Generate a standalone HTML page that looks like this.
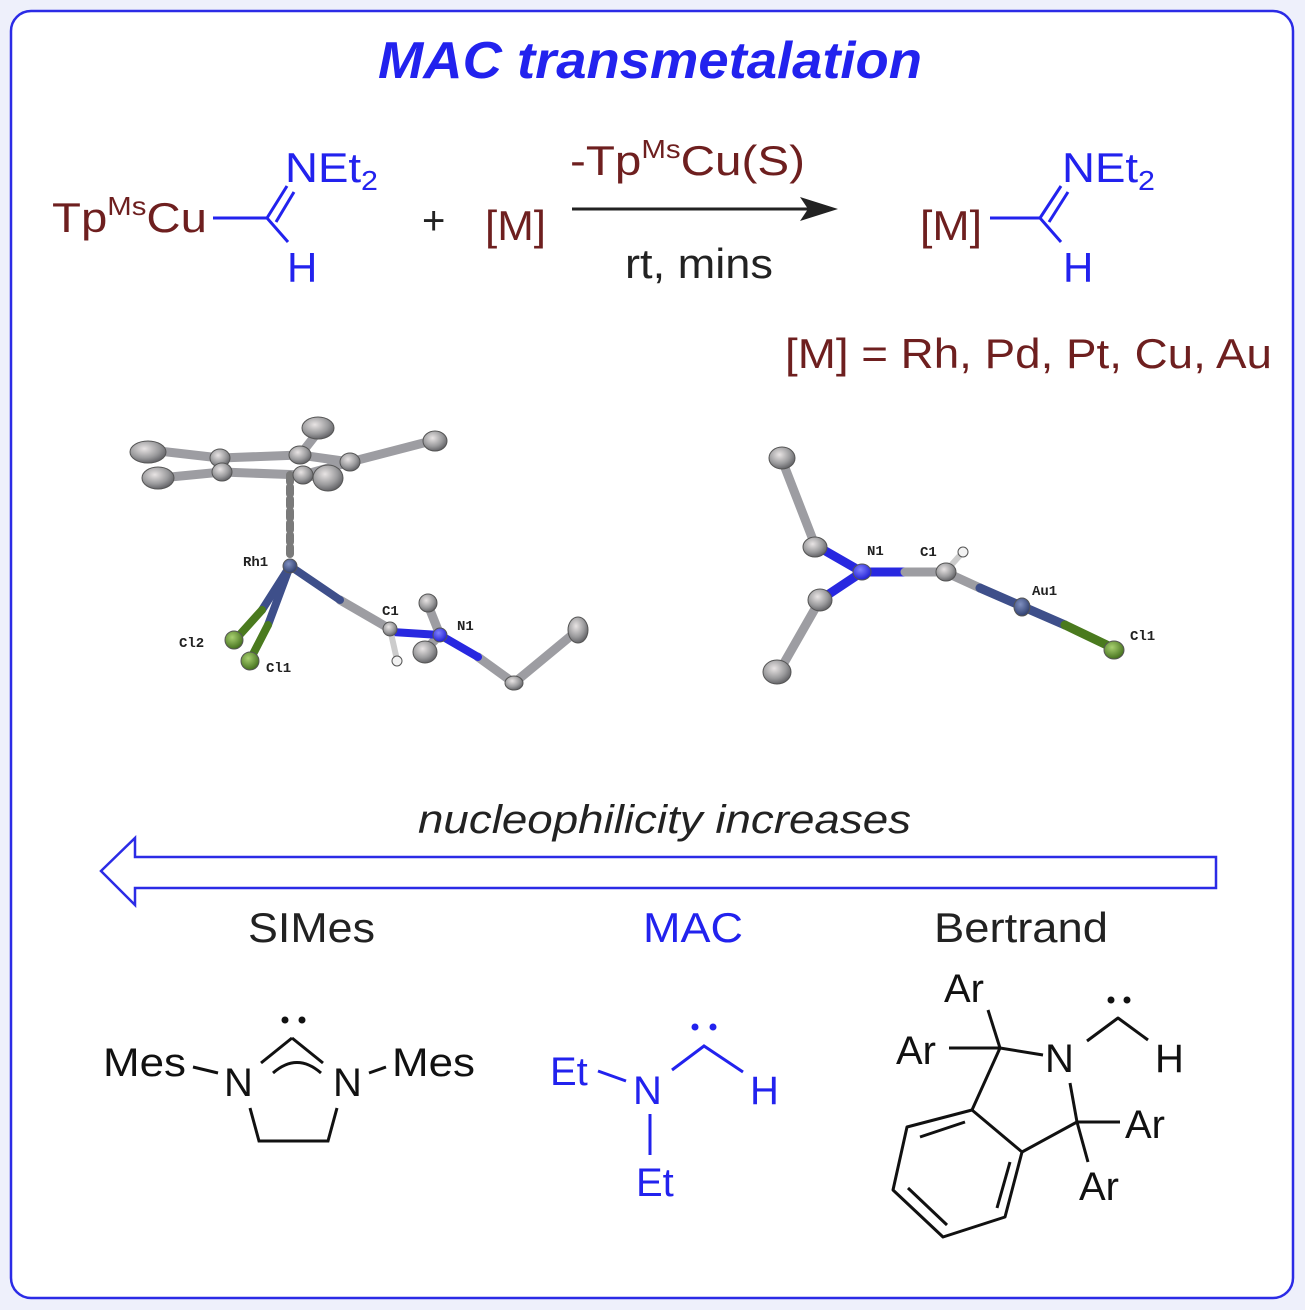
<!DOCTYPE html>
<html><head><meta charset="utf-8"><style>
html,body{margin:0;padding:0;background:#fff;}
svg{display:block;}
text{font-family:"Liberation Sans",sans-serif;}
</style></head><body>
<svg width="1305" height="1310" viewBox="0 0 1305 1310" xmlns="http://www.w3.org/2000/svg">
<defs>
<radialGradient id="g" cx="40%" cy="35%" r="70%"><stop offset="0" stop-color="#e8e4e4"/><stop offset="0.6" stop-color="#9a9a9c"/><stop offset="1" stop-color="#5a5a5e"/></radialGradient>
<radialGradient id="gg" cx="40%" cy="35%" r="70%"><stop offset="0" stop-color="#a8d070"/><stop offset="1" stop-color="#3e6a18"/></radialGradient>
<radialGradient id="gb" cx="40%" cy="35%" r="70%"><stop offset="0" stop-color="#8080ff"/><stop offset="1" stop-color="#1a1ad0"/></radialGradient>
<radialGradient id="gn" cx="40%" cy="35%" r="70%"><stop offset="0" stop-color="#8090c0"/><stop offset="1" stop-color="#2a3a6a"/></radialGradient>
</defs>
<rect x="0" y="0" width="1305" height="1310" fill="#eef0fb"/>
<rect x="11" y="11" width="1282" height="1287" rx="20" fill="#fff" stroke="#2b2be6" stroke-width="2.5"/>

<text x="650" y="78" text-anchor="middle" font-size="52" font-weight="bold" font-style="italic" fill="#2222ee" textLength="544" lengthAdjust="spacingAndGlyphs">MAC transmetalation</text>

<g fill="#6e1f1f" font-size="42">
<text x="52" y="232" textLength="155" lengthAdjust="spacingAndGlyphs">Tp<tspan font-size="26" dy="-17">Ms</tspan><tspan dy="17">Cu</tspan></text>
<text x="485" y="240" textLength="61" lengthAdjust="spacingAndGlyphs">[M]</text>
<text x="570" y="175" textLength="235" lengthAdjust="spacingAndGlyphs">-Tp<tspan font-size="26" dy="-17">Ms</tspan><tspan dy="17">Cu(S)</tspan></text>
<text x="920" y="240" textLength="62" lengthAdjust="spacingAndGlyphs">[M]</text>
<text x="785" y="368" textLength="487" lengthAdjust="spacingAndGlyphs">[M] = Rh, Pd, Pt, Cu, Au</text>
</g>
<text x="422" y="234" font-size="40" fill="#222">+</text>
<text x="625" y="278" font-size="42" fill="#222" textLength="148" lengthAdjust="spacingAndGlyphs">rt, mins</text>
<line x1="572" y1="209" x2="810" y2="209" stroke="#222" stroke-width="3"/>
<polygon points="838,209 800,197 808,209 800,221" fill="#222"/>

<g stroke="#2222ee" stroke-width="3" fill="none">
<line x1="213" y1="218" x2="267" y2="218"/>
<line x1="267" y1="218" x2="287" y2="186"/>
<line x1="276" y1="222" x2="294" y2="192"/>
<line x1="267" y1="218" x2="288" y2="242"/>
<line x1="990" y1="218" x2="1040" y2="218"/>
<line x1="1040" y1="218" x2="1061" y2="186"/>
<line x1="1049" y1="222" x2="1068" y2="192"/>
<line x1="1040" y1="218" x2="1061" y2="242"/>
</g>
<g fill="#2222ee" font-size="42">
<text x="285" y="182" textLength="93" lengthAdjust="spacingAndGlyphs">NEt<tspan font-size="28" dy="8">2</tspan></text>
<text x="287" y="282">H</text>
<text x="1062" y="182" textLength="93" lengthAdjust="spacingAndGlyphs">NEt<tspan font-size="28" dy="8">2</tspan></text>
<text x="1063" y="282">H</text>
</g>

<g stroke-linecap="round">
<g stroke="#9d9da2" stroke-width="9">
<line x1="150" y1="450" x2="220" y2="458"/><line x1="160" y1="478" x2="222" y2="472"/>
<line x1="220" y1="458" x2="300" y2="455"/><line x1="222" y1="472" x2="303" y2="475"/>
<line x1="300" y1="455" x2="350" y2="462"/><line x1="350" y1="462" x2="435" y2="440"/>
<line x1="300" y1="455" x2="318" y2="432"/><line x1="303" y1="475" x2="325" y2="478"/>
<line x1="220" y1="458" x2="222" y2="472"/><line x1="303" y1="475" x2="350" y2="462"/>
<line x1="390" y1="629" x2="340" y2="600"/><line x1="440" y1="635" x2="428" y2="605"/>
<line x1="440" y1="635" x2="425" y2="650"/><line x1="478" y1="657" x2="514" y2="683"/><line x1="514" y1="683" x2="578" y2="630"/>
</g>
<line x1="290" y1="475" x2="290" y2="556" stroke="#7a7a7a" stroke-width="8" stroke-dasharray="7,5"/>
<g stroke="#3e4f8a" stroke-width="8"><line x1="290" y1="566" x2="340" y2="600"/><line x1="290" y1="566" x2="262" y2="610"/><line x1="290" y1="566" x2="268" y2="625"/></g>
<g stroke="#4a7a1e" stroke-width="8"><line x1="262" y1="610" x2="235" y2="640"/><line x1="268" y1="625" x2="250" y2="660"/></g>
<g stroke="#2828e0" stroke-width="8"><line x1="392" y1="632" x2="440" y2="635"/><line x1="440" y1="635" x2="478" y2="657"/></g>
<line x1="390" y1="629" x2="397" y2="660" stroke="#ccc" stroke-width="6"/>
</g>
<g stroke="#555" stroke-width="1">
<ellipse cx="148" cy="452" rx="18" ry="11" fill="url(#g)"/><ellipse cx="158" cy="478" rx="16" ry="11" fill="url(#g)"/>
<ellipse cx="220" cy="458" rx="10" ry="9" fill="url(#g)"/><ellipse cx="222" cy="472" rx="10" ry="9" fill="url(#g)"/>
<ellipse cx="300" cy="455" rx="11" ry="9" fill="url(#g)"/><ellipse cx="318" cy="428" rx="16" ry="11" fill="url(#g)"/>
<ellipse cx="350" cy="462" rx="10" ry="9" fill="url(#g)"/><ellipse cx="303" cy="475" rx="10" ry="9" fill="url(#g)"/>
<ellipse cx="328" cy="478" rx="15" ry="13" fill="url(#g)"/><ellipse cx="435" cy="441" rx="12" ry="10" fill="url(#g)"/>
<circle cx="290" cy="566" r="7" fill="url(#gn)"/>
<circle cx="234" cy="640" r="9" fill="url(#gg)"/><circle cx="250" cy="661" r="9" fill="url(#gg)"/>
<circle cx="390" cy="629" r="7" fill="url(#g)"/><circle cx="397" cy="661" r="5" fill="#f2f2f2"/>
<circle cx="428" cy="603" r="9" fill="url(#g)"/><ellipse cx="425" cy="652" rx="12" ry="11" fill="url(#g)"/>
<circle cx="440" cy="635" r="7" fill="url(#gb)"/>
<ellipse cx="514" cy="683" rx="9" ry="7" fill="url(#g)"/><ellipse cx="578" cy="630" rx="10" ry="13" fill="url(#g)"/>
</g>
<g font-weight="bold" font-size="14" fill="#222">
<text x="243" y="566" style="font-family:'Liberation Mono',monospace">Rh1</text>
<text x="179" y="647" style="font-family:'Liberation Mono',monospace">Cl2</text>
<text x="266" y="672" style="font-family:'Liberation Mono',monospace">Cl1</text>
<text x="382" y="615" style="font-family:'Liberation Mono',monospace">C1</text>
<text x="457" y="630" style="font-family:'Liberation Mono',monospace">N1</text>
</g>

<g stroke-linecap="round" stroke-width="9">
<line x1="782" y1="460" x2="815" y2="545" stroke="#9d9da2"/>
<line x1="780" y1="670" x2="820" y2="600" stroke="#9d9da2"/>
<line x1="815" y1="545" x2="862" y2="572" stroke="#2828e0"/>
<line x1="820" y1="600" x2="862" y2="572" stroke="#2828e0"/>
<line x1="862" y1="572" x2="905" y2="572" stroke="#2828e0"/>
<line x1="905" y1="572" x2="945" y2="572" stroke="#9d9da2"/>
<line x1="945" y1="572" x2="980" y2="588" stroke="#9d9da2"/>
<line x1="980" y1="588" x2="1065" y2="625" stroke="#3e4f8a"/>
<line x1="1065" y1="625" x2="1113" y2="648" stroke="#4a7a1e"/>
<line x1="945" y1="572" x2="963" y2="552" stroke="#ccc" stroke-width="6"/>
</g>
<g stroke="#555" stroke-width="1">
<ellipse cx="782" cy="458" rx="13" ry="11" fill="url(#g)"/><ellipse cx="815" cy="547" rx="12" ry="10" fill="url(#g)"/>
<ellipse cx="820" cy="600" rx="12" ry="11" fill="url(#g)"/><ellipse cx="777" cy="672" rx="14" ry="12" fill="url(#g)"/>
<ellipse cx="862" cy="572" rx="9" ry="8" fill="url(#gb)"/><ellipse cx="946" cy="572" rx="10" ry="9" fill="url(#g)"/>
<circle cx="963" cy="552" r="5" fill="#f2f2f2"/><ellipse cx="1022" cy="607" rx="8" ry="9" fill="url(#gn)"/>
<ellipse cx="1114" cy="650" rx="10" ry="9" fill="url(#gg)"/>
</g>
<g font-weight="bold" font-size="14" fill="#222">
<text x="867" y="555" style="font-family:'Liberation Mono',monospace">N1</text>
<text x="920" y="556" style="font-family:'Liberation Mono',monospace">C1</text>
<text x="1032" y="595" style="font-family:'Liberation Mono',monospace">Au1</text>
<text x="1130" y="640" style="font-family:'Liberation Mono',monospace">Cl1</text>
</g>

<text x="418" y="833" font-size="40" font-style="italic" fill="#222" textLength="493" lengthAdjust="spacingAndGlyphs">nucleophilicity increases</text>
<polygon points="101,871 135,838 135,857 1216,857 1216,888 135,888 135,905" fill="#fff" stroke="#2b2be6" stroke-width="2.5" stroke-linejoin="miter"/>

<text x="248" y="942" font-size="42" fill="#222" textLength="127" lengthAdjust="spacingAndGlyphs">SIMes</text>
<text x="643" y="942" font-size="42" fill="#2222ee" textLength="100" lengthAdjust="spacingAndGlyphs">MAC</text>
<text x="934" y="942" font-size="42" fill="#222" textLength="174" lengthAdjust="spacingAndGlyphs">Bertrand</text>

<g stroke="#111" stroke-width="3" fill="none">
<line x1="193" y1="1067" x2="218" y2="1073"/>
<line x1="261" y1="1063" x2="292" y2="1038"/><line x1="292" y1="1038" x2="323" y2="1063"/>
<path d="M273,1073 Q297,1052 321,1073"/>
<line x1="369" y1="1073" x2="386" y2="1067"/>
<polyline points="250,1108 259,1141 328,1141 337,1108"/>
</g>
<circle cx="285" cy="1020" r="3.5" fill="#111"/><circle cx="302" cy="1020" r="3.5" fill="#111"/>
<g font-size="40" fill="#111">
<text x="103" y="1076" textLength="83" lengthAdjust="spacingAndGlyphs">Mes</text>
<text x="224" y="1096">N</text>
<text x="333" y="1096">N</text>
<text x="392" y="1076" textLength="83" lengthAdjust="spacingAndGlyphs">Mes</text>
</g>

<g stroke="#2222ee" stroke-width="3" fill="none">
<line x1="598" y1="1071" x2="626" y2="1081"/>
<polyline points="672,1070 704,1046 743,1072"/>
<line x1="650" y1="1114" x2="650" y2="1155"/>
</g>
<circle cx="695" cy="1027" r="3.5" fill="#2222ee"/><circle cx="713" cy="1027" r="3.5" fill="#2222ee"/>
<g font-size="40" fill="#2222ee">
<text x="550" y="1085">Et</text>
<text x="633" y="1104">N</text>
<text x="750" y="1104">H</text>
<text x="636" y="1196">Et</text>
</g>

<g stroke="#111" stroke-width="3" fill="none" stroke-linejoin="round">
<line x1="988" y1="1010" x2="1000" y2="1048"/>
<line x1="949" y1="1048" x2="1000" y2="1048"/>
<line x1="1000" y1="1048" x2="1043" y2="1055"/>
<polyline points="1087,1041 1118,1018 1148,1040"/>
<line x1="1070" y1="1083" x2="1077" y2="1122"/>
<line x1="1077" y1="1122" x2="1120" y2="1122"/>
<line x1="1077" y1="1122" x2="1088" y2="1162"/>
<line x1="1000" y1="1048" x2="972" y2="1110"/>
<line x1="1077" y1="1122" x2="1022" y2="1152"/>
<polygon points="972,1110 1022,1152 1005,1217 943,1237 893,1190 907,1127"/>
<line x1="920" y1="1137" x2="965" y2="1122"/>
<line x1="1010" y1="1162" x2="997" y2="1208"/>
<line x1="947" y1="1225" x2="908" y2="1188"/>
</g>
<circle cx="1111" cy="1000" r="3.5" fill="#111"/><circle cx="1127" cy="1000" r="3.5" fill="#111"/>
<g font-size="40" fill="#111">
<text x="944" y="1002">Ar</text>
<text x="896" y="1064">Ar</text>
<text x="1045" y="1072">N</text>
<text x="1155" y="1072">H</text>
<text x="1125" y="1138">Ar</text>
<text x="1079" y="1200">Ar</text>
</g>
</svg>
</body></html>
